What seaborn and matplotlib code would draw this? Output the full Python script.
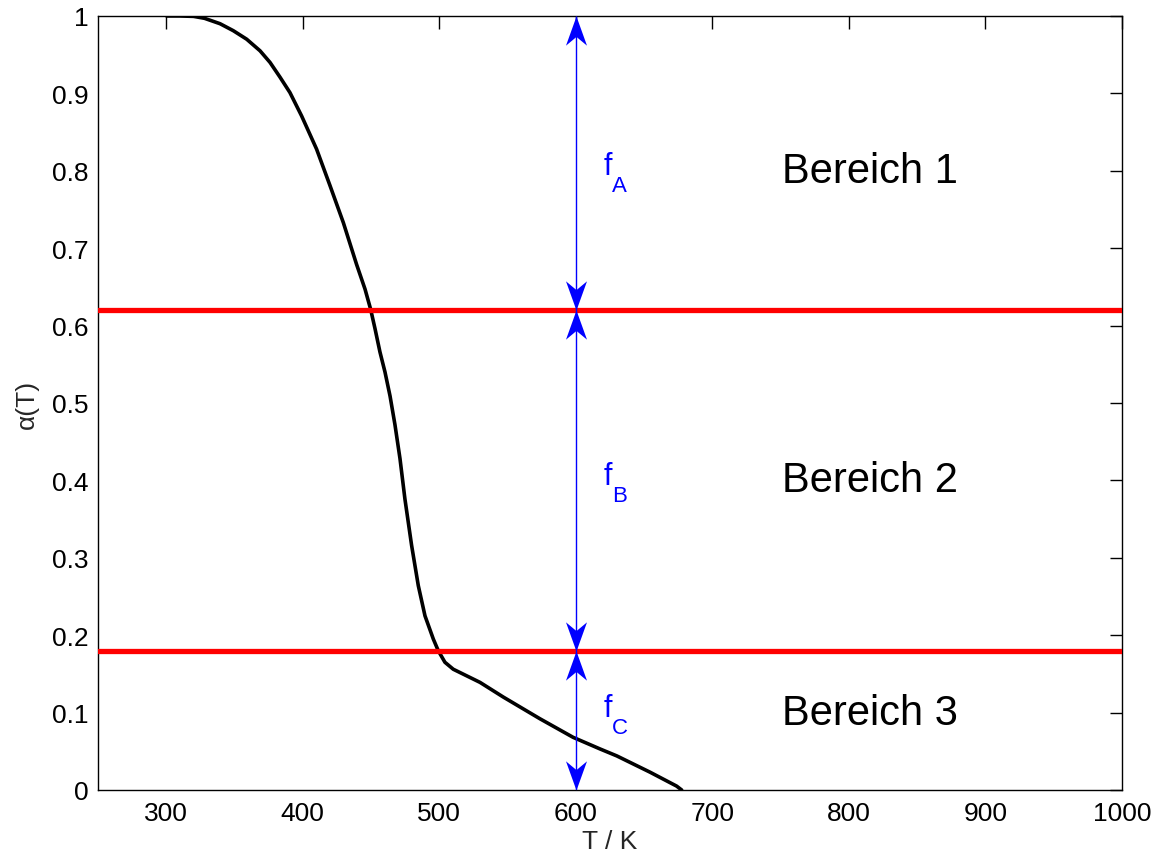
import numpy as np
import pandas as pd
import matplotlib
matplotlib.use("Agg")
import matplotlib.pyplot as plt
from matplotlib.path import Path
import seaborn as sns

# ---- data ----
temp_K = [300.3, 310, 320, 328, 339.4, 349.1, 358.9, 368.7, 376.0, 383.3, 390.6, 399.1, 410.1, 419.9,
          429.7, 439.4, 445.6, 449.7, 452.9, 456.5, 460.2, 463.9, 467.5, 471.2, 474.8, 479.7, 484.6,
          489.5, 495.6, 499.2, 504.1, 510.2, 529.8, 546.9, 573.7, 598.0, 617.7, 630.0, 654.3, 673.8, 677.5]
alpha_T = [1.0, 1.0, 0.9995, 0.997, 0.990, 0.981, 0.970, 0.955, 0.940, 0.921, 0.901, 0.871, 0.828, 0.781,
           0.733, 0.679, 0.647, 0.621, 0.596, 0.566, 0.540, 0.509, 0.472, 0.428, 0.376, 0.316, 0.264,
           0.225, 0.195, 0.180, 0.165, 0.156, 0.139, 0.120, 0.092, 0.068, 0.053, 0.044, 0.023, 0.005, 0.0]
thresholds = [0.62, 0.18]
arrow_T = 600
arrow_bounds = [1.0, 0.62, 0.18, 0.0]
f_main = ["f", "f", "f"]
f_subs = ["A", "B", "C"]
f_label_y = [0.8, 0.4, 0.1]
region_labels = ["Bereich 1", "Bereich 2", "Bereich 3"]
region_y = [0.8, 0.4, 0.1]
x_ticks = [300, 400, 500, 600, 700, 800, 900, 1000]
y_ticks = [0, 0.1, 0.2, 0.3, 0.4, 0.5, 0.6, 0.7, 0.8, 0.9, 1.0]
y_ticklabels = ["0", "0.1", "0.2", "0.3", "0.4", "0.5", "0.6", "0.7", "0.8", "0.9", "1"]

sns.set_theme(style="white")
plt.rcParams["font.family"] = ["Liberation Sans", "DejaVu Sans"]

fig = plt.figure(figsize=(11.61, 8.62), dpi=100)
ax = fig.add_axes([0.0844, 0.0824, 0.882, 0.8979])

df = pd.DataFrame({"T": temp_K, "alpha": alpha_T})
sns.lineplot(data=df, x="T", y="alpha", color="black", lw=2.6, ax=ax, sort=False)
ax.lines[-1].set_solid_joinstyle("round")

for th in thresholds:
    ax.axhline(th, color=(1, 0, 0), lw=3.8, zorder=3)

# arrow shaft
ax.vlines(arrow_T, arrow_bounds[-1], arrow_bounds[0], color=(0, 0, 1), lw=1.0, zorder=4)

# MATLAB-like concave arrowheads (tip at marker origin)
up_head = Path([(0, 0), (0.36, -1), (0, -0.7), (-0.36, -1), (0, 0)],
               [Path.MOVETO, Path.LINETO, Path.LINETO, Path.LINETO, Path.CLOSEPOLY])
down_head = Path([(0, 0), (0.36, 1), (0, 0.7), (-0.36, 1), (0, 0)],
                 [Path.MOVETO, Path.LINETO, Path.LINETO, Path.LINETO, Path.CLOSEPOLY])
up_tips = arrow_bounds[:-1]
down_tips = arrow_bounds[1:]
ax.plot([arrow_T] * len(up_tips), up_tips, ls="none", marker=up_head, ms=42,
        color=(0, 0, 1), mec=(0, 0, 1), mew=0, zorder=5, clip_on=False)
ax.plot([arrow_T] * len(down_tips), down_tips, ls="none", marker=down_head, ms=42,
        color=(0, 0, 1), mec=(0, 0, 1), mew=0, zorder=5, clip_on=False)

for m, s, yy in zip(f_main, f_subs, f_label_y):
    ax.annotate(m, xy=(620, yy), xytext=(0, -2.6), textcoords="offset points",
                color=(0, 0, 1), fontsize=22, ha="left", va="baseline")
    ax.annotate(s, xy=(620, yy), xytext=(6.6, -14.8), textcoords="offset points",
                color=(0, 0, 1), fontsize=16, ha="left", va="baseline")
for lab, yy in zip(region_labels, region_y):
    ax.text(751, yy, lab, color="black", fontsize=30, ha="left", va="center")

ax.set_xlim(250, 1000)
ax.set_ylim(0, 1)
ax.set_xticks(x_ticks)
ax.set_yticks(y_ticks)
ax.set_yticklabels(y_ticklabels)
ax.tick_params(direction="in", length=9, width=1, top=True, right=True,
               labelsize=19, colors="black")
ax.tick_params(axis="x", pad=8)
ax.tick_params(axis="y", pad=7)
ax.set_xlabel("T / K", fontsize=19, labelpad=3)
ax.set_ylabel("α(T)", fontsize=19, labelpad=9)
for sp in ax.spines.values():
    sp.set_color("black")
    sp.set_linewidth(1.0)

fig.savefig("out.png", dpi=100, facecolor="white")
